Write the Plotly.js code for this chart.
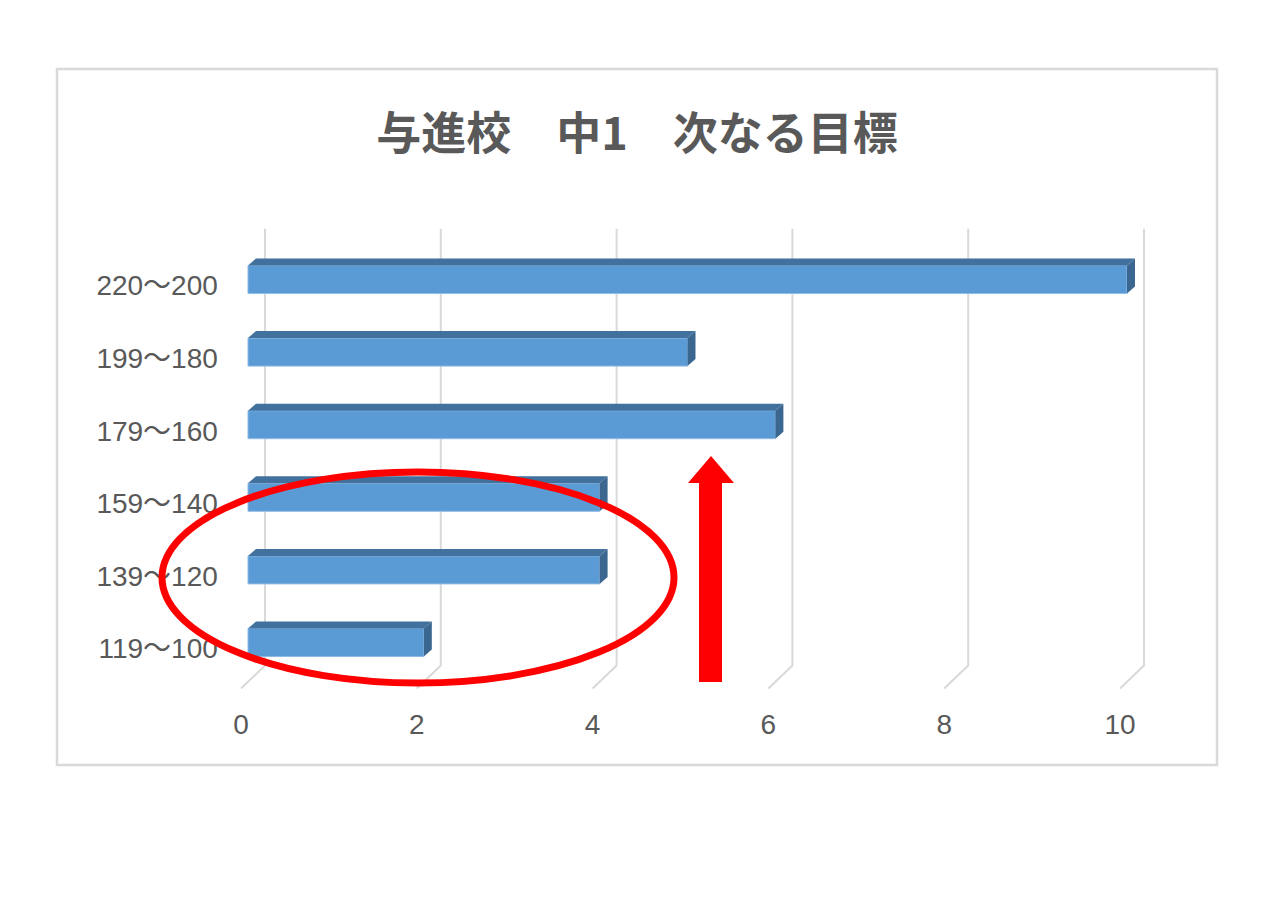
<!DOCTYPE html>
<html>
<head>
<meta charset="utf-8">
<script src="https://cdn.plot.ly/plotly-3.0.1.min.js"></script>
<style>
  html, body { margin: 0; padding: 0; background: #ffffff; }
  #chart { width: 1280px; height: 905px; }
</style>
</head>
<body>
<div id="chart"></div>
<script>
    // --- DATA (top to bottom as shown) ---
    const categories = ['220～200', '199～180', '179～160', '159～140', '139～120', '119～100'];
    const counts = [10, 5, 6, 4, 4, 2];
    const xTicks = [0, 2, 4, 6, 8, 10];
    const chartTitle = '与進校　中1　次なる目標';

    // --- GEOMETRY (pixels of the 1280x905 page) ---
    const W = 1280, H = 905;
    const X0_PX = 248, X_UNIT = 87.9;     // value 0 of the bar face, px per unit
    const Y0_PX = 642.5, Y_UNIT = 72.6;   // centre of lowest bar, px per category
    const yRange = [-0.64, 5.9];
    const xRange = [-0.15, 10.35];

    // fake 3D depth, in axis units
    const barWidth = 28 / Y_UNIT;
    const depthX = 8 / X_UNIT, depthY = 7 / Y_UNIT;
    const backX = 17 / X_UNIT, frontX = -7 / X_UNIT;
    const backY = -0.317, floorY = -0.634, topY = 5.70;

    const px = x => x / W;
    const py = y => 1 - y / H;

    const n = categories.length;
    const yPos = categories.map((c, i) => n - 1 - i);

    // --- gridlines (back wall + floor diagonal), drawn under the bars ---
    const gridShapes = xTicks.map(v => ({
        type: 'path', xref: 'x', yref: 'y', layer: 'below',
        path: 'M ' + (v + frontX) + ',' + floorY + ' L ' + (v + backX) + ',' + backY +
              ' L ' + (v + backX) + ',' + topY,
        line: { color: '#d9d9d9', width: 2 }
    }));

    const traces = [{
        type: 'bar', orientation: 'h',
        x: counts, y: yPos, width: barWidth,
        marker: { color: '#5b9bd5', line: { color: '#8fbbe6', width: 1 } },
        showlegend: false
    }];

    // top and end faces of each bar
    counts.forEach((v, i) => {
        const yc = yPos[i], t = yc + barWidth / 2, b = yc - barWidth / 2;
        traces.push({
            type: 'scatter', mode: 'lines', fill: 'toself',
            x: [0, depthX, v + depthX, v, 0],
            y: [t, t + depthY, t + depthY, t, t],
            fillcolor: '#41719c', line: { width: 0, color: '#41719c' },
            hoverinfo: 'skip', showlegend: false
        });
        traces.push({
            type: 'scatter', mode: 'lines', fill: 'toself',
            x: [v, v + depthX, v + depthX, v, v],
            y: [t, t + depthY, b + depthY, b, t],
            fillcolor: '#3a6690', line: { width: 0, color: '#3a6690' },
            hoverinfo: 'skip', showlegend: false
        });
    });

    const tickFont = { family: 'Liberation Sans, Noto Sans CJK JP, sans-serif', size: 28, color: '#595959' };

    // red arrow outline
    const arrow = [[699, 682], [699, 483], [688, 483], [711, 456], [734, 483], [722, 483], [722, 682]];
    const arrowPath = 'M ' + arrow.map(p => px(p[0]) + ',' + py(p[1])).join(' L ') + ' Z';

    const layout = {
        width: W, height: H,
        margin: { l: 0, r: 0, t: 0, b: 0 },
        paper_bgcolor: '#ffffff', plot_bgcolor: 'rgba(0,0,0,0)',
        title: {
            text: chartTitle,
            x: px(637), xanchor: 'center', y: py(134), yanchor: 'middle',
            font: { family: 'Noto Sans CJK JP, sans-serif', size: 45, weight: 'bold', color: '#595959' }
        },
        xaxis: {
            range: xRange,
            domain: [px(X0_PX + xRange[0] * X_UNIT), px(X0_PX + xRange[1] * X_UNIT)],
            tickmode: 'array', tickvals: xTicks,
            showgrid: false, zeroline: false, showline: false, ticks: '',
            ticklabelshift: -7, ticklabelstandoff: 16,
            tickfont: tickFont, fixedrange: true
        },
        yaxis: {
            range: yRange,
            domain: [py(Y0_PX - yRange[0] * Y_UNIT), py(Y0_PX - yRange[1] * Y_UNIT)],
            tickmode: 'array', tickvals: yPos, ticktext: categories,
            showgrid: false, zeroline: false, showline: false, ticks: '',
            ticklabelshift: 6, ticklabelstandoff: 16,
            tickfont: tickFont, fixedrange: true
        },
        shapes: gridShapes.concat([{
            type: 'rect', xref: 'paper', yref: 'paper', layer: 'below',
            x0: px(57), x1: px(1217), y0: py(765), y1: py(69),
            line: { color: '#d9d9d9', width: 2.5 }
        }, {
            type: 'circle', xref: 'paper', yref: 'paper', layer: 'above',
            x0: px(162), x1: px(674), y0: py(683), y1: py(472),
            line: { color: '#ff0000', width: 7 }
        }, {
            type: 'path', xref: 'paper', yref: 'paper', layer: 'above',
            path: arrowPath, fillcolor: '#ff0000', line: { width: 0 }
        }])
    };

    Plotly.newPlot('chart', traces, layout, { displayModeBar: false, staticPlot: true });
</script>
</body>
</html>
